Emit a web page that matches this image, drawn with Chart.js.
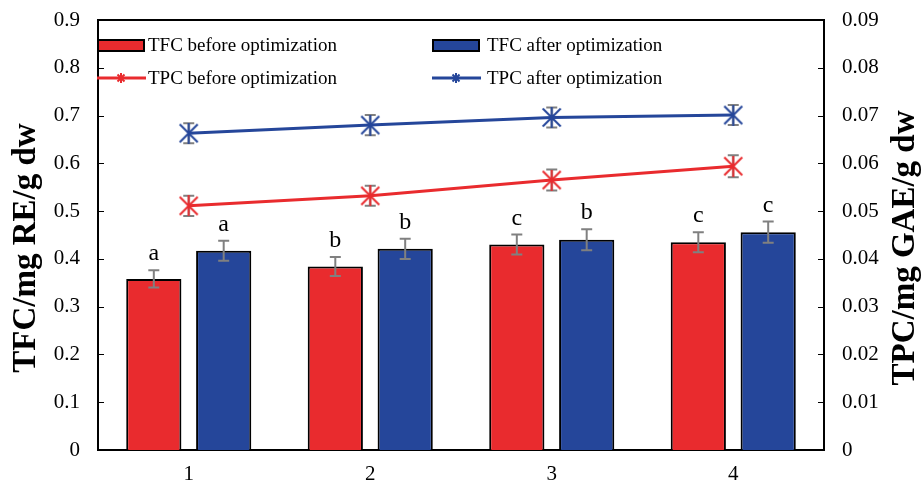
<!DOCTYPE html>
<html>
<head>
<meta charset="utf-8">
<script src="https://cdn.jsdelivr.net/npm/chart.js@4.4.0/dist/chart.umd.min.js"></script>
<style>
html, body { margin: 0; padding: 0; background: #fff; }
</style>
</head>
<body>
<canvas id="grafico" width="922" height="486"></canvas>
<script>
// Categorias do eixo x
const categorias = ["1", "2", "3", "4"];

// TFC (eixo esquerdo)
const tfcAntes = [0.358, 0.384, 0.430, 0.435];
const tfcDepois = [0.417, 0.421, 0.440, 0.456];
const tfcAntesErro = [0.018, 0.020, 0.021, 0.021];
const tfcDepoisErro = [0.021, 0.021, 0.022, 0.022];
const tfcAntesLetras = ["a", "b", "c", "c"];
const tfcDepoisLetras = ["a", "b", "b", "c"];

// TPC (eixo direito)
const tpcAntes = [0.0511, 0.0532, 0.0565, 0.0594];
const tpcDepois = [0.0663, 0.0680, 0.0696, 0.0701];
const tpcAntesErro = [0.0021, 0.0021, 0.0022, 0.0023];
const tpcDepoisErro = [0.0021, 0.0021, 0.0021, 0.0021];

// Ticks dos eixos
const ticksTfc = [0, 0.1, 0.2, 0.3, 0.4, 0.5, 0.6, 0.7, 0.8, 0.9];
const ticksTpc = [0, 0.01, 0.02, 0.03, 0.04, 0.05, 0.06, 0.07, 0.08, 0.09];

const tituloEsquerdo = "TFC/mg RE/g dw";
const tituloDireito = "TPC/mg GAE/g dw";

const vermelho = "#E92B2E";
const azul = "#25469A";
const fonte = "'Liberation Serif', 'Times New Roman', serif";

// marcador estilo Excel (X + traço vertical)
function estrela(cor, tam, lw) {
    const c = document.createElement('canvas');
    c.width = tam; c.height = tam;
    const g = c.getContext('2d');
    g.strokeStyle = cor;
    g.lineWidth = lw;
    const m = lw / 2 + 0.5;
    g.beginPath();
    g.moveTo(m, m); g.lineTo(tam - m, tam - m);
    g.moveTo(tam - m, m); g.lineTo(m, tam - m);
    g.moveTo(tam / 2, 0); g.lineTo(tam / 2, tam);
    g.stroke();
    return c;
}

function desenhaErro(ctx, x, yTop, yBot) {
    ctx.save();
    ctx.strokeStyle = "#808080";
    ctx.lineWidth = 2;
    ctx.beginPath();
    ctx.moveTo(x, yTop); ctx.lineTo(x, yBot);
    ctx.moveTo(x - 5.5, yTop); ctx.lineTo(x + 5.5, yTop);
    ctx.moveTo(x - 5.5, yBot); ctx.lineTo(x + 5.5, yBot);
    ctx.stroke();
    ctx.restore();
}

function errosDoDataset(chart, i) {
    const ds = chart.data.datasets[i];
    if (!ds.erros) return;
    const meta = chart.getDatasetMeta(i);
    const escala = chart.scales[meta.yAxisID];
    const ctx = chart.ctx;
    meta.data.forEach((el, j) => {
        const v = ds.data[j], e = ds.erros[j];
        const yTop = escala.getPixelForValue(v + e);
        const yBot = escala.getPixelForValue(v - e);
        desenhaErro(ctx, el.x, yTop, yBot);
        if (ds.letras) {
            ctx.save();
            ctx.fillStyle = "#000";
            ctx.font = "24px " + fonte;
            ctx.textAlign = "center";
            ctx.textBaseline = "alphabetic";
            ctx.fillText(ds.letras[j], el.x, yTop - 10);
            ctx.restore();
        }
    });
}

function tituloVertical(ctx, texto, x, y) {
    ctx.save();
    ctx.fillStyle = "#000";
    ctx.font = "bold 33px " + fonte;
    ctx.textAlign = "center";
    ctx.textBaseline = "middle";
    ctx.translate(x, y);
    ctx.rotate(-Math.PI / 2);
    ctx.fillText(texto, 0, 0);
    ctx.restore();
}

const extras = {
    id: 'extras',
    beforeDatasetDraw(chart, args) {
        if (chart.data.datasets[args.index].type === 'line') errosDoDataset(chart, args.index);
    },
    afterDatasetDraw(chart, args) {
        if (chart.data.datasets[args.index].type !== 'line') errosDoDataset(chart, args.index);
    },
    afterDraw(chart) {
        const ctx = chart.ctx;
        const a = chart.chartArea;
        ctx.save();
        ctx.strokeStyle = "#000";
        ctx.lineWidth = 2;
        // borda de cima
        ctx.beginPath();
        ctx.moveTo(a.left - 1, a.top); ctx.lineTo(a.right + 1, a.top);
        ctx.stroke();
        // ticks para dentro
        ctx.lineWidth = 1.2;
        ctx.beginPath();
        ticksTfc.forEach(v => {
            const y = Math.round(chart.scales.y.getPixelForValue(v)) + 0.5;
            ctx.moveTo(a.left, y); ctx.lineTo(a.left + 6, y);
        });
        ticksTpc.forEach(v => {
            const y = Math.round(chart.scales.y1.getPixelForValue(v)) + 0.5;
            ctx.moveTo(a.right - 6, y); ctx.lineTo(a.right, y);
        });
        ctx.stroke();
        ctx.restore();

        // títulos dos eixos (de baixo para cima)
        const meio = (a.top + a.bottom) / 2 + 13;
        tituloVertical(ctx, tituloEsquerdo, 26, meio);
        tituloVertical(ctx, tituloDireito, 905, meio);

        // legenda
        const ds = chart.data.datasets;
        const colunas = [a.left, a.left + 335];
        const linhas = [a.top + 25.5, a.top + 58];
        ctx.save();
        ctx.font = "19px " + fonte;
        ctx.textBaseline = "middle";
        ctx.fillStyle = "#000";
        ds.forEach((d, i) => {
            const x = colunas[i % 2];
            const y = linhas[Math.floor(i / 2)];
            if (d.type === 'line') {
                ctx.strokeStyle = d.borderColor;
                ctx.lineWidth = 3;
                ctx.beginPath();
                ctx.moveTo(x - 1, y); ctx.lineTo(x + 48, y);
                ctx.stroke();
                ctx.drawImage(d.marcadorLegenda, x + 23 - 5, y - 5);
            } else {
                ctx.fillStyle = d.backgroundColor;
                ctx.fillRect(x, y - 5.5, 46, 11);
                ctx.strokeStyle = "#000";
                ctx.lineWidth = 2;
                ctx.strokeRect(x, y - 5.5, 46, 11);
            }
            ctx.fillStyle = "#000";
            ctx.fillText(d.label, x + 50 + (i % 2) * 4, y + 1);
        });
        ctx.restore();
    }
};

const ctx = document.getElementById('grafico').getContext('2d');

const grafico = new Chart(ctx, {
    type: 'bar',
    data: {
        labels: categorias,
        datasets: [
            {
                type: 'bar',
                label: "TFC before optimization",
                data: tfcAntes,
                erros: tfcAntesErro,
                letras: tfcAntesLetras,
                backgroundColor: vermelho,
                borderColor: "#000",
                borderWidth: 2,
                yAxisID: 'y',
                categoryPercentage: 0.77,
                barPercentage: 0.79,
                order: 2
            },
            {
                type: 'bar',
                label: "TFC after optimization",
                data: tfcDepois,
                erros: tfcDepoisErro,
                letras: tfcDepoisLetras,
                backgroundColor: azul,
                borderColor: "#000",
                borderWidth: 2,
                yAxisID: 'y',
                categoryPercentage: 0.77,
                barPercentage: 0.79,
                order: 2
            },
            {
                type: 'line',
                label: "TPC before optimization",
                data: tpcAntes,
                erros: tpcAntesErro,
                borderColor: vermelho,
                backgroundColor: vermelho,
                borderWidth: 3,
                pointStyle: estrela(vermelho, 21, 2),
                marcadorLegenda: estrela(vermelho, 10, 2),
                tension: 0,
                yAxisID: 'y1',
                order: 1
            },
            {
                type: 'line',
                label: "TPC after optimization",
                data: tpcDepois,
                erros: tpcDepoisErro,
                borderColor: azul,
                backgroundColor: azul,
                borderWidth: 3,
                pointStyle: estrela(azul, 21, 2),
                marcadorLegenda: estrela(azul, 10, 2),
                tension: 0,
                yAxisID: 'y1',
                order: 1
            }
        ]
    },
    options: {
        responsive: false,
        animation: false,
        devicePixelRatio: 1,
        layout: { padding: { top: 20, left: 0, right: 0, bottom: 0 } },
        plugins: {
            legend: { display: false },
            tooltip: { enabled: false }
        },
        scales: {
            x: {
                grid: { display: false, drawTicks: false },
                border: { color: "#000", width: 2 },
                ticks: { color: "#000", font: { family: fonte, size: 21 }, padding: 12 },
                afterFit: s => { s.height = 36; s.paddingLeft = 0; s.paddingRight = 0; }
            },
            y: {
                position: 'left',
                min: 0,
                max: 0.9,
                afterBuildTicks: s => { s.ticks = ticksTfc.map(v => ({ value: v })); },
                grid: { display: false, drawTicks: false },
                border: { color: "#000", width: 2 },
                ticks: { color: "#000", font: { family: fonte, size: 21 }, padding: 18 },
                afterFit: s => { s.width = 98; s.paddingTop = 0; s.paddingBottom = 0; }
            },
            y1: {
                position: 'right',
                min: 0,
                max: 0.09,
                afterBuildTicks: s => { s.ticks = ticksTpc.map(v => ({ value: v })); },
                grid: { display: false, drawTicks: false },
                border: { color: "#000", width: 2 },
                ticks: { color: "#000", font: { family: fonte, size: 21 }, padding: 18 },
                afterFit: s => { s.width = 98; s.paddingTop = 0; s.paddingBottom = 0; }
            }
        }
    },
    plugins: [extras]
});
</script>
</body>
</html>
